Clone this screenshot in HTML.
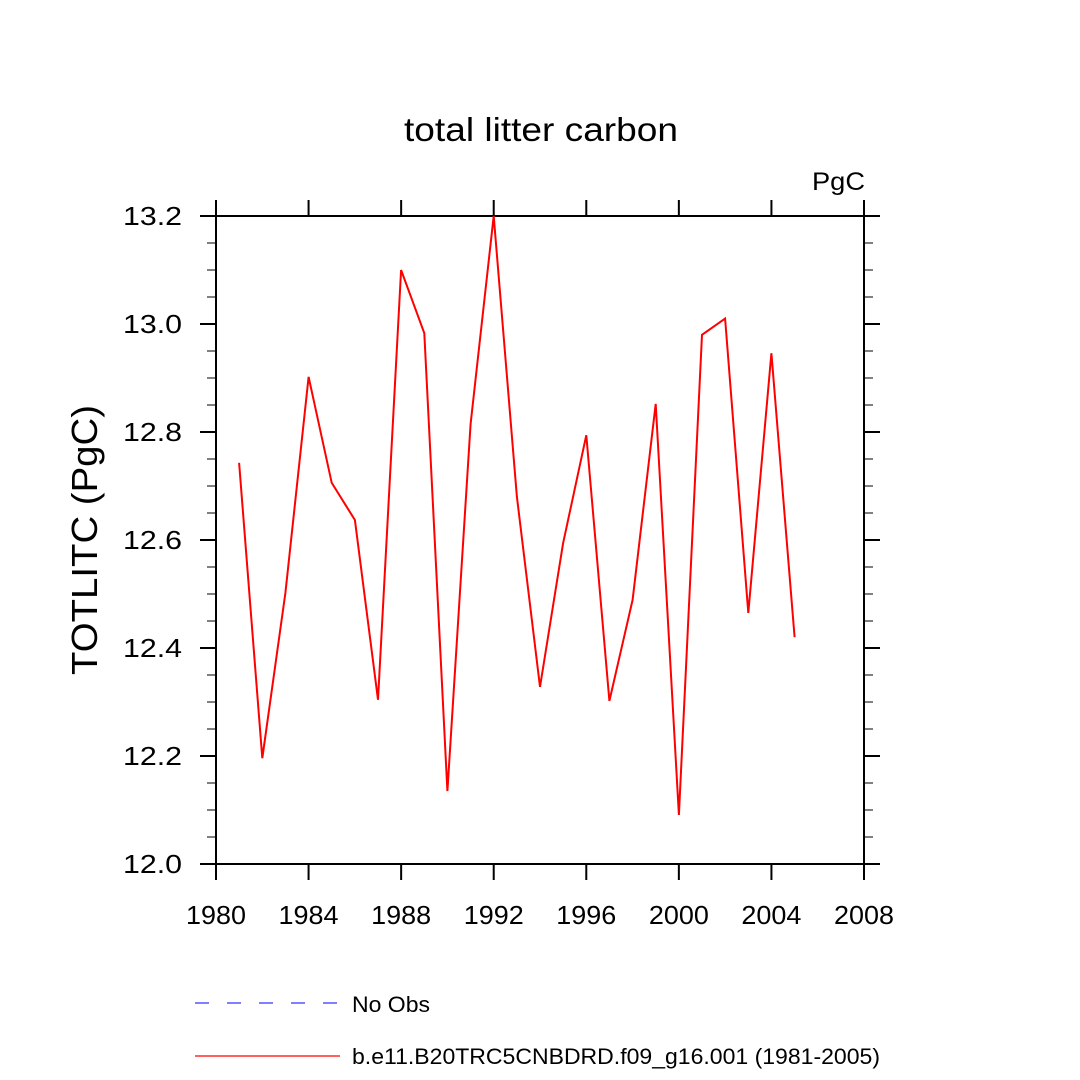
<!DOCTYPE html>
<html><head><meta charset="utf-8"><style>
html,body{margin:0;padding:0;background:#fff;}
svg{display:block;font-family:"Liberation Sans",sans-serif;}
</style></head><body>
<svg id="chart" width="1080" height="1080" viewBox="0 0 1080 1080" xmlns="http://www.w3.org/2000/svg">
<rect width="1080" height="1080" fill="#fff"/>
<text x="404" y="141" font-size="33" textLength="274" lengthAdjust="spacingAndGlyphs">total litter carbon</text>
<text x="812" y="190" font-size="25" textLength="53" lengthAdjust="spacingAndGlyphs">PgC</text>
<text transform="translate(97,675) rotate(-90)" font-size="36" textLength="270" lengthAdjust="spacingAndGlyphs">TOTLITC  (PgC)</text>
<g id="axes"></g>
<g id="series"></g>
<g>
<line x1="195" y1="1003" x2="340" y2="1003" stroke="#3333ff" stroke-width="1.2" stroke-dasharray="14,18"/>
<text x="352" y="1012" font-size="22" textLength="78" lengthAdjust="spacingAndGlyphs">No Obs</text>
<line x1="195" y1="1056" x2="340" y2="1056" stroke="#ff0000" stroke-width="1.2"/>
<text x="352" y="1064" font-size="22" textLength="528" lengthAdjust="spacingAndGlyphs">b.e11.B20TRC5CNBDRD.f09_g16.001 (1981-2005)</text>
</g>
</svg>
<script>
const years=[1981,1982,1983,1984,1985,1986,1987,1988,1989,1990,1991,1992,1993,1994,1995,1996,1997,1998,1999,2000,2001,2002,2003,2004,2005];
const values=[12.743,12.196,12.502,12.902,12.706,12.637,12.304,13.10,12.983,12.135,12.815,13.20,12.68,12.328,12.594,12.794,12.302,12.489,12.852,12.091,12.98,13.01,12.465,12.946,12.42];
const xTicks=[1980,1984,1988,1992,1996,2000,2004,2008];
const yTicks=[12.0,12.2,12.4,12.6,12.8,13.0,13.2];
const yTickLabels=["12.0","12.2","12.4","12.6","12.8","13.0","13.2"];
const L=216,R=864,T=216,B=864;
const xs=v=>L+(v-1980)/(2008-1980)*(R-L);
const ys=v=>B-(v-12.0)/(13.2-12.0)*(B-T);
const NS="http://www.w3.org/2000/svg";
const ax=document.getElementById('axes');
function mk(tag,attrs,parent){const e=document.createElementNS(NS,tag);for(const k in attrs)e.setAttribute(k,attrs[k]);parent.appendChild(e);return e;}
for(let i=0;i<=24;i++){const v=12.0+i*0.05;const y=ys(v);
 if(i%4===0)continue;
 const a=mk('line',{x1:L,y1:y,x2:L-9,y2:y,stroke:'#555','stroke-width':1.5},ax);
 
 
 const b=mk('line',{x1:R,y1:y,x2:R+9,y2:y,stroke:'#555','stroke-width':1.5},ax);
 
 
}
xTicks.forEach(t=>{const x=xs(t);
 const a=mk('line',{x1:x,y1:B,x2:x,y2:B+16,stroke:'#000','stroke-width':2},ax);
 
 
 const b=mk('line',{x1:x,y1:T,x2:x,y2:T-16,stroke:'#000','stroke-width':2},ax);
 
 
 const tx=mk('text',{x:x-30,y:924,'font-size':26,textLength:60,lengthAdjust:'spacingAndGlyphs'},ax);tx.textContent=t;
 
 
});
yTicks.forEach((t,i)=>{const y=ys(t);
 const a=mk('line',{x1:L-16,y1:y,x2:L,y2:y,stroke:'#000','stroke-width':2},ax);
 
 
 const b=mk('line',{x1:R,y1:y,x2:R+16,y2:y,stroke:'#000','stroke-width':2},ax);
 
 
 const tx=mk('text',{x:123,y:y+9,'font-size':26,textLength:59,lengthAdjust:'spacingAndGlyphs'},ax);tx.textContent=yTickLabels[i];
 
 
});
const frame=mk('rect',{x:L,y:T,width:R-L,height:B-T,fill:'none',stroke:'#000','stroke-width':2},ax);


const pts=years.map((yr,i)=>xs(yr).toFixed(1)+','+ys(values[i]).toFixed(1)).join(' ');
const line=mk('polyline',{points:pts,fill:'none',stroke:'#ff0000','stroke-width':2,'stroke-linejoin':'miter'},document.getElementById('series'));


</script>
</body></html>
